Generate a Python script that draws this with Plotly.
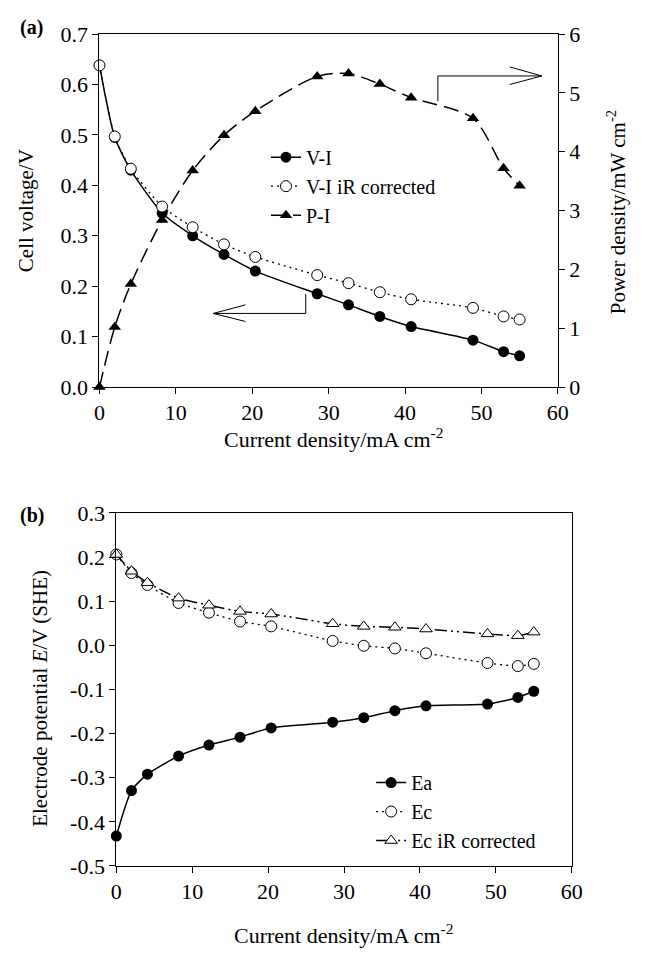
import plotly.graph_objects as go

# ---------------- data ----------------
current = [0, 2.0, 4.1, 8.2, 12.2, 16.3, 20.4, 28.5, 32.6, 36.7, 40.8, 48.9, 52.9, 55.0]

# panel (a)
v_i = [0.638, 0.495, 0.430, 0.345, 0.300, 0.263, 0.230, 0.185, 0.163, 0.140, 0.120, 0.093, 0.070, 0.062]
v_i_ir = [0.638, 0.497, 0.433, 0.358, 0.317, 0.283, 0.258, 0.222, 0.206, 0.188, 0.174, 0.157, 0.140, 0.134]
p_i = [0.0, 1.02, 1.75, 2.84, 3.68, 4.28, 4.69, 5.28, 5.33, 5.15, 4.92, 4.57, 3.72, 3.42]

# panel (b)
e_a = [-0.432, -0.329, -0.292, -0.251, -0.226, -0.208, -0.187, -0.174, -0.164, -0.148, -0.137, -0.133, -0.118, -0.104]
e_c = [0.206, 0.164, 0.137, 0.096, 0.074, 0.054, 0.043, 0.010, -0.001, -0.007, -0.018, -0.040, -0.047, -0.042]
e_c_ir = [0.206, 0.168, 0.142, 0.107, 0.091, 0.077, 0.071, 0.049, 0.043, 0.041, 0.037, 0.026, 0.022, 0.030]

x_ticks = [0, 10, 20, 30, 40, 50, 60]
ya_ticks = [0.0, 0.1, 0.2, 0.3, 0.4, 0.5, 0.6, 0.7]
ya_labels = ["0.0", "0.1", "0.2", "0.3", "0.4", "0.5", "0.6", "0.7"]
y2_ticks = [0, 1, 2, 3, 4, 5, 6]
yb_ticks = [0.3, 0.2, 0.1, 0.0, -0.1, -0.2, -0.3, -0.4, -0.5]
yb_labels = ["0.3", "0.2", "0.1", "0.0", "-0.1", "-0.2", "-0.3", "-0.4", "-0.5"]

FONT = "Liberation Serif"
FS = 22      # tick labels, horizontal titles
FSL = 20     # legend
FSV = 21     # vertical axis titles
W, H = 647, 965


def px_x(p):
    return p / W


def px_y(p):
    return 1 - p / H


fig = go.Figure()

# ---- panel (a) traces
fig.add_trace(go.Scatter(
    x=current, y=v_i, name="V-I", mode="lines+markers",
    line=dict(color="black", width=1.5, shape="spline", smoothing=0.6),
    marker=dict(symbol="circle", size=11, color="black"),
    xaxis="x", yaxis="y", legend="legend", cliponaxis=False))
fig.add_trace(go.Scatter(
    x=current, y=v_i_ir, name="V-I iR corrected", mode="lines+markers",
    line=dict(color="black", width=1.3, dash="2px,4px", shape="spline", smoothing=0.6),
    marker=dict(symbol="circle", size=11, color="white", line=dict(color="black", width=1)),
    xaxis="x", yaxis="y", legend="legend", cliponaxis=False))
fig.add_trace(go.Scatter(
    x=current, y=p_i, name="P-I", mode="lines+markers",
    line=dict(color="black", width=1.5, dash="15px,7px", shape="spline", smoothing=0.8),
    marker=dict(symbol="triangle-up", size=11, color="black"),
    xaxis="x", yaxis="y2", legend="legend", cliponaxis=False))

# ---- panel (b) traces
fig.add_trace(go.Scatter(
    x=current, y=e_a, name="Ea", mode="lines+markers",
    line=dict(color="black", width=1.5, shape="spline", smoothing=0.6),
    marker=dict(symbol="circle", size=11, color="black"),
    xaxis="x2", yaxis="y3", legend="legend2", cliponaxis=False))
fig.add_trace(go.Scatter(
    x=current, y=e_c, name="Ec", mode="lines+markers",
    line=dict(color="black", width=1.3, dash="2px,4px", shape="spline", smoothing=0.6),
    marker=dict(symbol="circle", size=11, color="white", line=dict(color="black", width=1)),
    xaxis="x2", yaxis="y3", legend="legend2", cliponaxis=False))
fig.add_trace(go.Scatter(
    x=current, y=e_c_ir, name="Ec iR corrected", mode="lines+markers",
    line=dict(color="black", width=1.5, dash="12px,4px,2px,4px,2px,4px", shape="spline", smoothing=0.6),
    marker=dict(symbol="triangle-up", size=11, color="white", line=dict(color="black", width=1)),
    xaxis="x2", yaxis="y3", legend="legend2", cliponaxis=False))

axis_common = dict(
    showline=True, linecolor="black", linewidth=1, ticks="outside", ticklen=6,
    tickcolor="black", tickwidth=1, showgrid=False, zeroline=False,
    tickfont=dict(family=FONT, size=FS, color="black"),
)

fig.update_layout(
    width=W, height=H,
    margin=dict(l=0, r=0, t=0, b=0),
    paper_bgcolor="white", plot_bgcolor="white",
    font=dict(family=FONT, size=FS, color="black"),
    xaxis=dict(axis_common, domain=[px_x(96), px_x(566.7)], range=[0, 60],
               tickvals=x_ticks, anchor="y", mirror=True),
    yaxis=dict(axis_common, domain=[px_y(385), px_y(22.7)], range=[0, 0.7],
               tickvals=ya_ticks, ticktext=ya_labels, anchor="x"),
    yaxis2=dict(axis_common, overlaying="y", side="right", range=[0, 6],
                tickvals=y2_ticks, anchor="x"),
    xaxis2=dict(axis_common, domain=[px_x(113.3), px_x(581)], range=[0, 60],
                tickvals=x_ticks, anchor="y3", mirror=True),
    yaxis3=dict(axis_common, domain=[px_y(876.7), px_y(514.3)], range=[-0.5, 0.3],
                tickvals=yb_ticks, ticktext=yb_labels, anchor="x2", mirror=True),
    legend=dict(x=px_x(267), y=px_y(129), xanchor="left", yanchor="top",
                bgcolor="rgba(0,0,0,0)", font=dict(family=FONT, size=FSL),
                tracegroupgap=0, itemwidth=30),
    legend2=dict(x=px_x(375), y=px_y(771), xanchor="left", yanchor="top",
                 bgcolor="rgba(0,0,0,0)", font=dict(family=FONT, size=FSL),
                 tracegroupgap=0, itemwidth=30),
    showlegend=True,
)

# ---- text annotations (axis titles, panel labels)
ann = []
ann.append(dict(text="<b>(a)</b>", x=px_x(26), y=px_y(16), font_size=20))
ann.append(dict(text="<b>(b)</b>", x=px_x(27), y=px_y(517), font_size=20))
ann.append(dict(text="Cell voltage/V", x=px_x(20), y=px_y(204), textangle=-90, font_size=FSV))
ann.append(dict(text="Power density/mW cm<sup>-2</sup>", x=px_x(627), y=px_y(206), textangle=-90, font_size=FSV))
ann.append(dict(text="Current density/mA cm<sup>-2</sup>", x=px_x(336), y=px_y(437), font_size=FS))
ann.append(dict(text="Electrode potential <i>E</i>/V (SHE)", x=px_x(35), y=px_y(705), textangle=-90, font_size=FSV))
ann.append(dict(text="Current density/mA cm<sup>-2</sup>", x=px_x(347), y=px_y(947), font_size=FS))
for a in ann:
    fs = a.pop("font_size")
    a.update(xref="paper", yref="paper", xanchor="center", yanchor="middle", showarrow=False,
             font=dict(family=FONT, size=fs, color="black"))
fig.update_layout(annotations=ann)

# ---- indicator arrows (panel a), drawn in axis units
ln = dict(color="black", width=1)
shapes = [
    # left-pointing arrow (to V axis)
    dict(type="line", xref="x", yref="y", x0=27.0, y0=0.146, x1=14.9, y1=0.146, line=ln),
    dict(type="line", xref="x", yref="y", x0=27.0, y0=0.146, x1=27.0, y1=0.184, line=ln),
    dict(type="line", xref="x", yref="y", x0=14.9, y0=0.146, x1=19.1, y1=0.163, line=ln),
    dict(type="line", xref="x", yref="y", x0=14.9, y0=0.146, x1=19.1, y1=0.130, line=ln),
    # right-pointing arrow (to power axis)
    dict(type="line", xref="x", yref="y", x0=44.3, y0=0.567, x1=44.3, y1=0.617, line=ln),
    dict(type="line", xref="x", yref="y", x0=44.3, y0=0.617, x1=57.9, y1=0.617, line=ln),
    dict(type="line", xref="x", yref="y", x0=57.9, y0=0.617, x1=53.7, y1=0.635, line=ln),
    dict(type="line", xref="x", yref="y", x0=57.9, y0=0.617, x1=53.7, y1=0.600, line=ln),
]
fig.update_layout(shapes=shapes)

fig.write_html("out.html")
